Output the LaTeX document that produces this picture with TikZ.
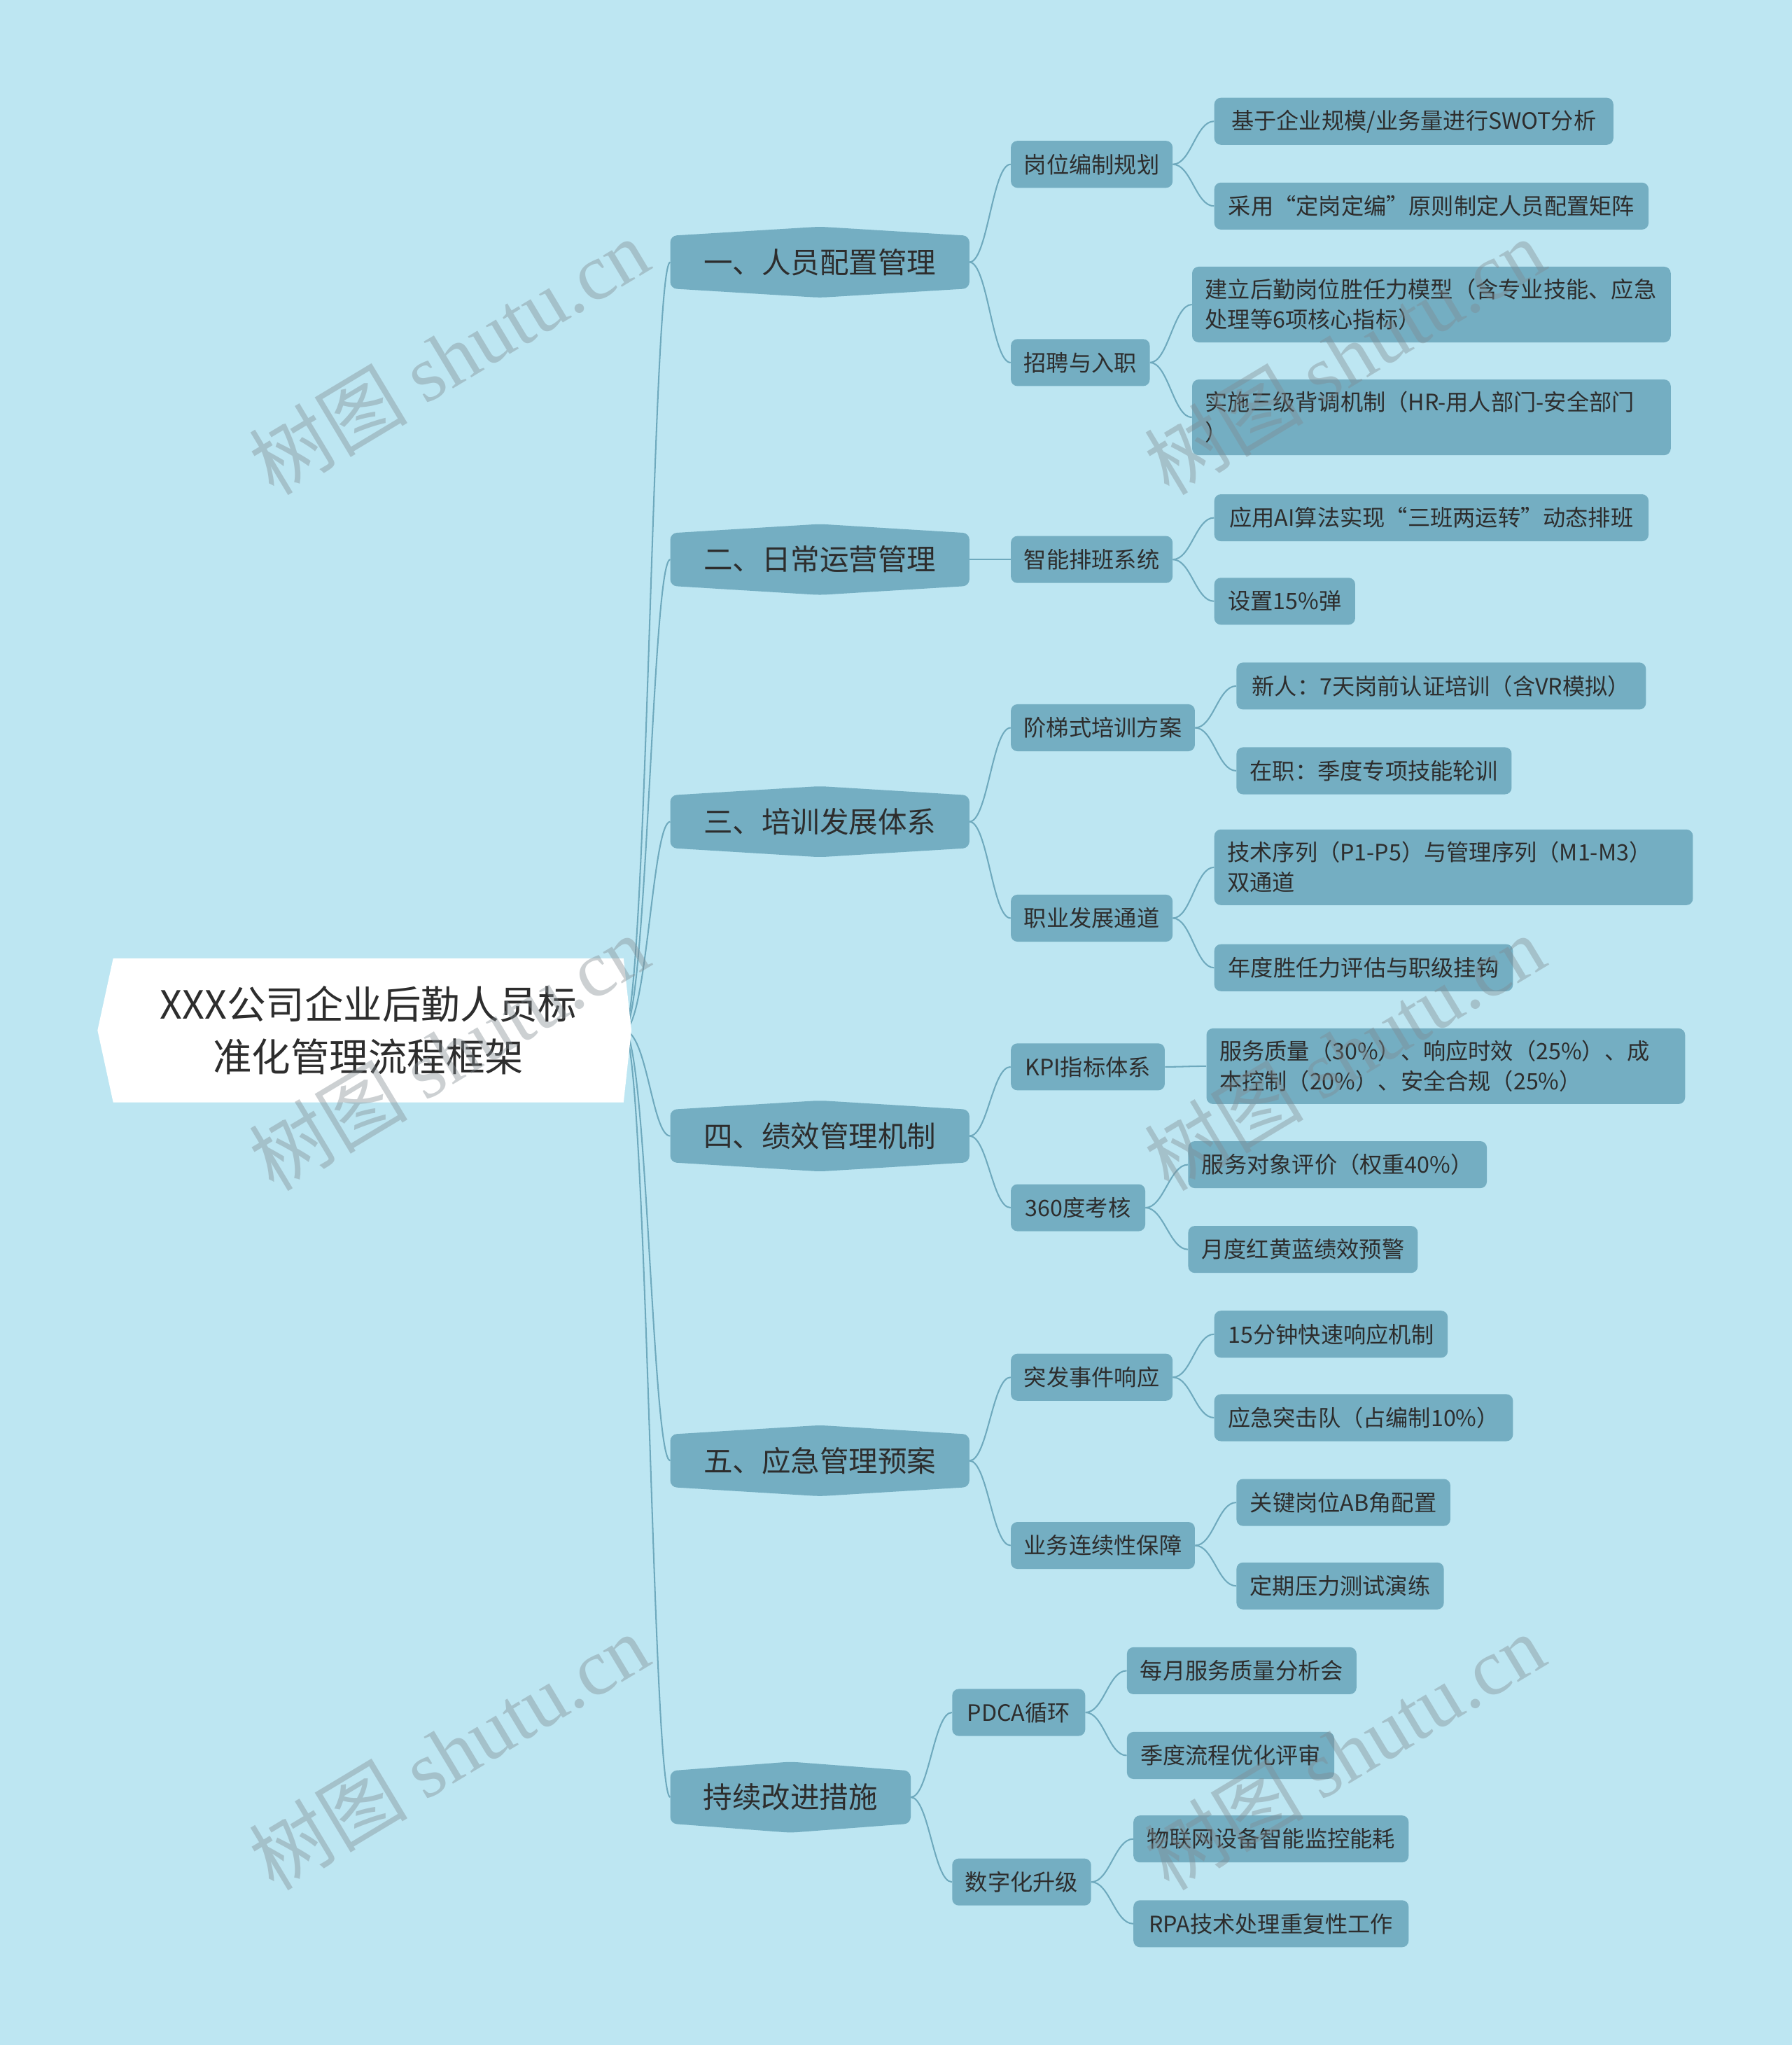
\documentclass[tikz,border=0pt]{standalone}
\usepackage{fontspec}
\setmainfont{Noto Sans CJK SC}
\newfontfamily\wmlatin{Liberation Serif}
\newfontfamily\wmcjk{Noto Sans CJK SC}
\definecolor{bgcol}{HTML}{BDE6F2}
\definecolor{nodefill}{HTML}{74AEC2}
\definecolor{edgecol}{HTML}{6EA9BD}
\definecolor{txtcol}{HTML}{2D2D2D}
\definecolor{wmcol}{HTML}{808A90}
\pgfdeclarelayer{bglayer}
\pgfdeclarelayer{edges}
\pgfdeclarelayer{shapes}
\pgfsetlayers{bglayer,edges,shapes,main}
\tikzset{
  leaf/.style={fill=nodefill, rounded corners=5pt, minimum height=36pt, inner xsep=10pt, inner ysep=3pt,
    font=\fontsize{17.3}{23}\selectfont, text=txtcol, anchor=west},
  leaftwo/.style={leaf, minimum height=58pt, align=left},
  lone/.style={minimum height=40pt, inner xsep=10pt, font=\fontsize{22.3}{28}\selectfont, text=txtcol, anchor=west},
  rootnode/.style={minimum height=110pt, minimum width=391pt, align=center, font=\fontsize{29.8}{40}\selectfont, text=txtcol},
  edge/.style={draw=edgecol, line width=1.1pt},
  wm/.style={text=wmcol, opacity=0.4, rotate=31, font=\fontsize{61}{64}\selectfont},
}
\newcommand\loneshape[1]{%
  \begin{pgfonlayer}{shapes}
  \fill[nodefill, rounded corners=5pt] (#1.west) -- (#1.north west) -- ([yshift=7pt]#1.north) -- (#1.north east)
    -- (#1.south east) -- ([yshift=-7pt]#1.south) -- (#1.south west) -- cycle;
  \end{pgfonlayer}}
\newcommand\ledge[2]{\draw[edge] (#1.east) .. controls +(14,0) and +(-14,0) .. (#2.west);}
\begin{document}
\begin{tikzpicture}[x=1pt, y=-1pt]
\begin{pgfonlayer}{bglayer}
\fill[bgcol] (0,0) rectangle (1374,1568);
\end{pgfonlayer}
\useasboundingbox (0,0) rectangle (1374,1568);

% root
\node[rootnode] (root) at (282.5,790) {XXX公司企业后勤人员标\\准化管理流程框架};
\begin{pgfonlayer}{shapes}
\fill[white] (root.north west) -- ([xshift=-12pt]root.west) -- (root.south west) -- (root.south east)
  -- ([xshift=6pt]root.east) -- (root.north east) -- cycle;
\end{pgfonlayer}

% level 1
\node[lone, minimum width=229pt] (n1) at (514,201) {一、人员配置管理};
\node[lone, minimum width=229pt] (n2) at (514,429) {二、日常运营管理};
\node[lone, minimum width=229pt] (n3) at (514,630) {三、培训发展体系};
\node[lone, minimum width=229pt] (n4) at (514,871) {四、绩效管理机制};
\node[lone, minimum width=229pt] (n5) at (514,1120) {五、应急管理预案};
\node[lone, minimum width=184pt] (n6) at (514,1378) {持续改进措施};
\loneshape{n1}\loneshape{n2}\loneshape{n3}\loneshape{n4}\loneshape{n5}\loneshape{n6}

% level 2
\node[leaf, minimum width=124pt] (n1a) at (775,126) {岗位编制规划};
\node[leaf, minimum width=105pt] (n1b) at (775,278) {招聘与入职};
\node[leaf, minimum width=124pt] (n2a) at (775,429) {智能排班系统};
\node[leaf, minimum width=141pt] (n3a) at (775,558) {阶梯式培训方案};
\node[leaf, minimum width=124pt] (n3b) at (775,704) {职业发展通道};
\node[leaf, minimum width=118pt] (n4a) at (775,818) {KPI指标体系};
\node[leaf, minimum width=103pt] (n4b) at (775,926) {360度考核};
\node[leaf, minimum width=124pt] (n5a) at (775,1056) {突发事件响应};
\node[leaf, minimum width=141pt] (n5b) at (775,1185) {业务连续性保障};
\node[leaf, minimum width=102pt] (n6a) at (730,1313) {PDCA循环};
\node[leaf, minimum width=106pt] (n6b) at (730,1443) {数字化升级};

% leaves
\node[leaf, minimum width=306pt] (n1a1) at (931,93) {基于企业规模/业务量进行SWOT分析};
\node[leaf, minimum width=333pt] (n1a2) at (931,158) {采用“定岗定编”原则制定人员配置矩阵};
\node[leaftwo, text width=347pt] (n1b1) at (914,233.5) {建立后勤岗位胜任力模型（含专业技能、应急\\处理等6项核心指标）};
\node[leaftwo, text width=347pt] (n1b2) at (914,320) {实施三级背调机制（HR-用人部门-安全部门\\）};
\node[leaf, minimum width=333pt] (n2a1) at (931,397) {应用AI算法实现“三班两运转”动态排班};
\node[leaf, minimum width=108pt] (n2a2) at (931,461) {设置15\%弹};
\node[leaf, minimum width=314pt] (n3a1) at (948,526) {新人：7天岗前认证培训（含VR模拟）};
\node[leaf, minimum width=211pt] (n3a2) at (948,591) {在职：季度专项技能轮训};
\node[leaftwo, text width=347pt] (n3b1) at (931,665) {技术序列（P1-P5）与管理序列（M1-M3）\\双通道};
\node[leaf, minimum width=229pt] (n3b2) at (931,742) {年度胜任力评估与职级挂钩};
\node[leaftwo, text width=347pt] (n4a1) at (925,817.5) {服务质量（30\%）、响应时效（25\%）、成\\本控制（20\%）、安全合规（25\%）};
\node[leaf, minimum width=229pt] (n4b1) at (911,893) {服务对象评价（权重40\%）};
\node[leaf, minimum width=176pt] (n4b2) at (911,958) {月度红黄蓝绩效预警};
\node[leaf, minimum width=179pt] (n5a1) at (931,1023) {15分钟快速响应机制};
\node[leaf, minimum width=229pt] (n5a2) at (931,1087) {应急突击队（占编制10\%）};
\node[leaf, minimum width=164pt] (n5b1) at (948,1152) {关键岗位AB角配置};
\node[leaf, minimum width=159pt] (n5b2) at (948,1216) {定期压力测试演练};
\node[leaf, minimum width=176pt] (n6a1) at (864,1281) {每月服务质量分析会};
\node[leaf, minimum width=159pt] (n6a2) at (864,1346) {季度流程优化评审};
\node[leaf, minimum width=211pt] (n6b1) at (869,1410) {物联网设备智能监控能耗};
\node[leaf, minimum width=211pt] (n6b2) at (869,1475) {RPA技术处理重复性工作};

% edges
\begin{pgfonlayer}{edges}
\foreach \t in {n1,n2,n3,n4,n5,n6}{
  \draw[edge] (root.east) .. controls +(18,0) and +(-14,0) .. (\t.west);
}
\ledge{n1}{n1a}\ledge{n1}{n1b}
\ledge{n2}{n2a}
\ledge{n3}{n3a}\ledge{n3}{n3b}
\ledge{n4}{n4a}\ledge{n4}{n4b}
\ledge{n5}{n5a}\ledge{n5}{n5b}
\ledge{n6}{n6a}\ledge{n6}{n6b}
\ledge{n1a}{n1a1}\ledge{n1a}{n1a2}
\ledge{n1b}{n1b1}\ledge{n1b}{n1b2}
\ledge{n2a}{n2a1}\ledge{n2a}{n2a2}
\ledge{n3a}{n3a1}\ledge{n3a}{n3a2}
\ledge{n3b}{n3b1}\ledge{n3b}{n3b2}
\ledge{n4a}{n4a1}
\ledge{n4b}{n4b1}\ledge{n4b}{n4b2}
\ledge{n5a}{n5a1}\ledge{n5a}{n5a2}
\ledge{n5b}{n5b1}\ledge{n5b}{n5b2}
\ledge{n6a}{n6a1}\ledge{n6a}{n6a2}
\ledge{n6b}{n6b1}\ledge{n6b}{n6b2}
\end{pgfonlayer}

% watermarks
\node[wm] (wm1) at (344,273) {{\wmcjk 树图} {\wmlatin shutu.cn}};
\node[wm] (wm2) at (1031,273) {{\wmcjk 树图} {\wmlatin shutu.cn}};
\node[wm] (wm3) at (344,807) {{\wmcjk 树图} {\wmlatin shutu.cn}};
\node[wm] (wm4) at (1031,807) {{\wmcjk 树图} {\wmlatin shutu.cn}};
\node[wm] (wm5) at (344,1343) {{\wmcjk 树图} {\wmlatin shutu.cn}};
\node[wm] (wm6) at (1031,1343) {{\wmcjk 树图} {\wmlatin shutu.cn}};
\end{tikzpicture}
\end{document}
